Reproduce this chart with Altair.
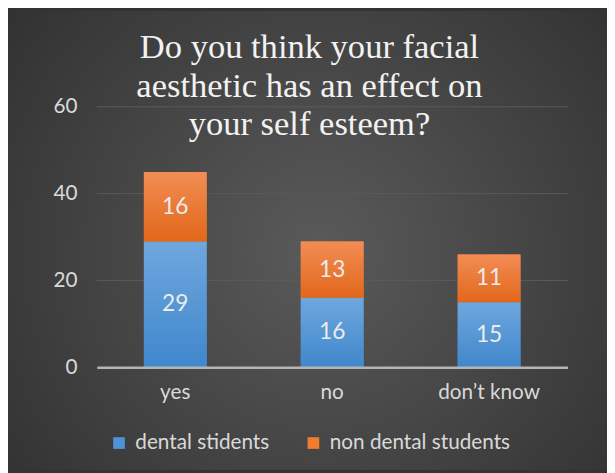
import altair as alt
import pandas as pd

categories = ["yes", "no", "don\u2019t know"]
series = ["dental stidents", "non dental students"]
dental = [29, 16, 15]
non_dental = [16, 13, 11]
y_ticks = [0, 20, 40, 60]

rows = []
for i, c in enumerate(categories):
    rows.append({"cat": c, "series": series[0], "value": dental[i], "order": 0})
    rows.append({"cat": c, "series": series[1], "value": non_dental[i], "order": 1})
df = pd.DataFrame(rows)

W, H = 477, 264
PL, PT, PR, PB = 90, 97, 40, 104

label_font = "Lato"
light = "#d9d9d9"

bg = alt.Chart(pd.DataFrame({"a": [0]})).mark_rect(
    color=alt.RadialGradient(
        gradient="radial",
        x1=0.52, y1=0.52, x2=0.52, y2=0.52, r1=0, r2=0.75,
        stops=[alt.GradientStop(color="#5a5a5a", offset=0),
               alt.GradientStop(color="#2c2c2c", offset=1)],
    )
).encode(
    x=alt.value(-PL), x2=alt.value(W + PR),
    y=alt.value(-PT), y2=alt.value(H + PB),
)

yscale = alt.Scale(domain=[0, 60])

grid = alt.Chart(pd.DataFrame({"v": y_ticks[1:]})).mark_rule(
    color="#5a5a5a", strokeWidth=1
).encode(y=alt.Y("v:Q", scale=yscale), x=alt.value(0), x2=alt.value(W))

base = alt.Chart(df).transform_stack(
    stack="value", groupby=["cat"], as_=["y0", "y1"],
    sort=[alt.SortField("order")],
).transform_calculate(mid="(datum.y0 + datum.y1) / 2")

xenc = alt.X(
    "cat:N", sort=categories, title=None,
    scale=alt.Scale(paddingInner=0.6, paddingOuter=0.3),
    axis=alt.Axis(labelAngle=0, labelFont=label_font, labelFontSize=21,
                  labelColor=light, labelPadding=15, ticks=False, zindex=2,
                  domain=True, domainColor="#b4b4b4", domainWidth=2.5),
)

legend_bars = base.mark_bar().encode(
    x=xenc,
    y=alt.Y("y0:Q", scale=yscale, title=None,
            axis=alt.Axis(values=y_ticks, labelFont=label_font, grid=False,
                          labelFontSize=21, labelColor=light, labelPadding=20,
                          ticks=False, domain=False, zindex=2)),
    y2="y1:Q",
    color=alt.Color("series:N", sort=series,
                    scale=alt.Scale(domain=series, range=["#4f93d6", "#ef7d2d"]),
                    legend=alt.Legend(title=None, orient="none", direction="horizontal",
                                      legendX=12, legendY=330, labelLimit=400,
                                      symbolType="square", symbolSize=140,
                                      symbolStrokeWidth=0, labelFont=label_font,
                                      labelFontSize=21, labelColor=light,
                                      columnPadding=34, labelOffset=6)),
)

blue_grad = alt.LinearGradient(
    gradient="linear", x1=0, y1=0, x2=0, y2=1,
    stops=[alt.GradientStop(color="#6fa7de", offset=0),
           alt.GradientStop(color="#4087cc", offset=1)],
)
orange_grad = alt.LinearGradient(
    gradient="linear", x1=0, y1=0, x2=0, y2=1,
    stops=[alt.GradientStop(color="#f28d55", offset=0),
           alt.GradientStop(color="#e2671a", offset=1)],
)

blue_bars = base.transform_filter(alt.datum.order == 0).mark_bar(color=blue_grad).encode(
    x=alt.X("cat:N", sort=categories), y="y0:Q", y2="y1:Q")
orange_bars = base.transform_filter(alt.datum.order == 1).mark_bar(color=orange_grad).encode(
    x=alt.X("cat:N", sort=categories), y="y0:Q", y2="y1:Q")

labels = base.mark_text(font=label_font, fontSize=23, color="#ececec",
                        baseline="middle", align="center").encode(
    x=alt.X("cat:N", sort=categories), y="mid:Q", text="value:Q")

chart = alt.layer(bg, grid, legend_bars, blue_bars, orange_bars, labels).properties(
    width=W, height=H,
    title=alt.TitleParams(
        text=["Do you think your facial", "aesthetic has an effect on", "your self esteem?"],
        font="Liberation Serif", fontSize=35, fontWeight="normal", color="#f2f2f2",
        anchor="middle", frame="group", lineHeight=39, offset=-133, dx=-23,
    ),
    autosize=alt.AutoSizeParams(type="none"),
    padding={"left": PL, "top": PT, "right": PR, "bottom": PB},
    background="#333333",
).configure_view(stroke=None)

chart.save("out.html", embed_options={"renderer": "svg", "actions": False})
